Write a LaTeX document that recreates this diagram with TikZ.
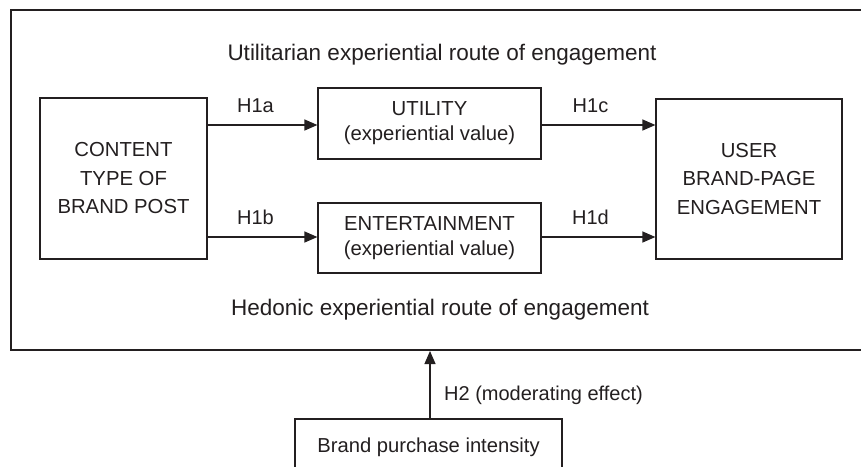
\documentclass[tikz,border=0pt]{standalone}
\usepackage{fontspec}
\setmainfont{Liberation Sans}
\usetikzlibrary{arrows.meta}
\definecolor{ink}{RGB}{35,31,32}
\begin{document}
\begin{tikzpicture}[x=1pt,y=-1pt,
  every node/.style={text=ink},
  outerbox/.style={draw=ink, line width=2pt, inner sep=0pt},
  bigbox/.style={draw=ink, line width=1.2pt, align=center, inner sep=0pt,
    font=\fontsize{20.3}{28.5}\selectfont},
  smallbox/.style={draw=ink, line width=1.2pt, align=center, inner sep=0pt,
    font=\fontsize{20.3}{25}\selectfont},
  titletext/.style={inner sep=0pt, font=\fontsize{22.5}{27}\selectfont},
  lbl/.style={inner sep=0pt, font=\fontsize{20}{24}\selectfont},
  arr/.style={draw=ink, line width=1.2pt, -{Triangle[length=13pt,width=11pt]}}
]
\useasboundingbox (0,0) rectangle (861,466);
\fill[white] (0,0) rectangle (861,466);

\node[outerbox, minimum width=869pt, minimum height=340pt] (outer) at (445.5,180) {};

\node[titletext, anchor=base] (ut) at (442,60) {Utilitarian experiential route of engagement};
\node[titletext, anchor=base] (hd) at (440,315) {Hedonic experiential route of engagement};

\node[bigbox, minimum width=167pt, minimum height=161pt] (content) at (123.5,178.5) {CONTENT\\TYPE OF\\BRAND POST};
\node[bigbox, minimum width=186pt, minimum height=160pt] (user) at (749,179) {USER\\BRAND-PAGE\\ENGAGEMENT};
\node[smallbox, minimum width=223pt, minimum height=71pt] (util) at (429.5,123.5) {UTILITY\\(experiential value)};
\node[smallbox, minimum width=223pt, minimum height=70pt] (ent) at (429.5,238) {ENTERTAINMENT\\(experiential value)};

\node[smallbox, font=\fontsize{20.2}{24}\selectfont, minimum width=267pt, minimum height=57pt] (brand) at (428.5,447.5) {Brand purchase intensity};

\coordinate (ua) at ([yshift=-1.5pt]util.west);
\coordinate (ub) at ([yshift=-1.5pt]util.east);
\coordinate (ea) at ([yshift=1pt]ent.west);
\coordinate (eb) at ([yshift=1pt]ent.east);

\draw[arr] (content.east |- ua) -- (ua)
  node[lbl, midway, above=12pt, xshift=-7pt] (h1a) {H1a};
\draw[arr] (content.east |- ea) -- (ea)
  node[lbl, midway, above=11.5pt, xshift=-7pt] (h1b) {H1b};
\draw[arr] (ub) -- (user.west |- ub)
  node[lbl, midway, above=12pt, xshift=-8pt] (h1c) {H1c};
\draw[arr] (eb) -- (user.west |- eb)
  node[lbl, midway, above=12pt, xshift=-8pt] (h1d) {H1d};

\coordinate (bn) at ([xshift=1.5pt]brand.north);
\draw[arr] (bn) -- (bn |- outer.south);
\node[lbl, anchor=base west] (h2) at (444,400) {H2 (moderating effect)};
\end{tikzpicture}
\end{document}
